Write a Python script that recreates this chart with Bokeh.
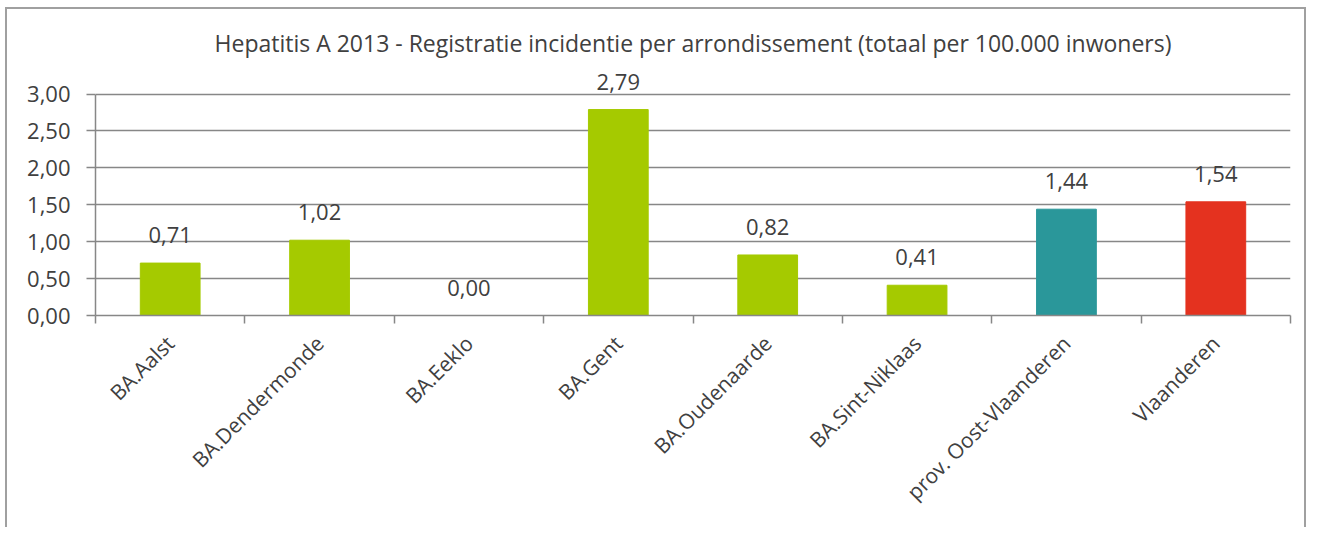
from bokeh.plotting import figure
from bokeh.models import ColumnDataSource, FixedTicker, Range1d, CustomJSTickFormatter, LabelSet
from bokeh.core.properties import value
from bokeh.embed import file_html
from bokeh.resources import INLINE
import math

title_text = "Hepatitis A 2013 - Registratie incidentie per arrondissement (totaal per 100.000 inwoners)"
categories = ["BA.Aalst", "BA.Dendermonde", "BA.Eeklo", "BA.Gent", "BA.Oudenaarde",
              "BA.Sint-Niklaas", "prov. Oost-Vlaanderen", "Vlaanderen"]
values = [0.71, 1.02, 0.00, 2.79, 0.82, 0.41, 1.44, 1.54]
colors = ["#A5CA00"] * 6 + ["#2A979A", "#E4321F"]
y_ticks = [0.0, 0.5, 1.0, 1.5, 2.0, 2.5, 3.0]

FONT = "Open Sans"
TXT = "#404040"
GRID = "#878787"
BORDER = "#a0a0a0"

xs = [i + 0.5 for i in range(len(categories))]
labels = [f"{v:.2f}".replace(".", ",") for v in values]
src = ColumnDataSource(dict(x=xs, top=values, color=colors, label=labels))

# frame extends above the top tick so the value labels are not clipped
y_top = max(y_ticks) * 244.5 / 221.0

W, H = 1307, 527
p = figure(width=W, height=H, output_backend="svg", toolbar_location=None,
           x_range=Range1d(0, len(categories)), y_range=Range1d(0, y_top),
           min_border_left=95, min_border_right=17, min_border_top=70, min_border_bottom=212)

p.title.text = title_text
p.title.align = "center"
p.title.text_font = FONT
p.title.text_font_size = "23px"
p.title.text_font_style = "normal"
p.title.text_color = TXT
p.title.standoff = 24

p.vbar(x="x", top="top", width=0.4, color="color", source=src)
p.add_layout(LabelSet(x="x", y="top", text="label", source=src, text_align="center",
                      text_baseline="alphabetic", y_offset=20, text_font=value(FONT),
                      text_font_size="22px", text_color=TXT))

p.outline_line_color = None
p.border_fill_color = None
p.background_fill_color = "white"
g = f"linear-gradient({BORDER},{BORDER})"
p.styles = {
    "background-image": f"{g}, {g}, {g}",
    "background-size": f"2px {H}px, {W - 7}px 2px, 2px {H}px",
    "background-position": f"5px 7px, 5px 7px, {W - 3}px 7px",
    "background-repeat": "no-repeat",
}

# y axis
p.yaxis.ticker = FixedTicker(ticks=y_ticks)
p.yaxis.bounds = (min(y_ticks), max(y_ticks))
p.yaxis.formatter = CustomJSTickFormatter(code="return tick.toFixed(2).replace('.', ',');")
p.yaxis.axis_line_color = GRID
p.yaxis.axis_line_width = 1.5
p.yaxis.major_tick_line_color = GRID
p.yaxis.major_tick_line_width = 1.5
p.yaxis.major_tick_in = 0
p.yaxis.major_tick_out = 9
p.yaxis.minor_tick_line_color = None
p.yaxis.major_label_standoff = 16
p.yaxis.major_label_text_font = FONT
p.yaxis.major_label_text_font_size = "22px"
p.yaxis.major_label_text_color = TXT

# x axis
p.xaxis.ticker = FixedTicker(ticks=xs, minor_ticks=list(range(len(categories) + 1)))
p.xaxis.major_label_overrides = {x: c for x, c in zip(xs, categories)}
p.xaxis.major_label_orientation = math.pi / 4
p.xaxis.axis_line_color = GRID
p.xaxis.axis_line_width = 1.5
p.xaxis.major_tick_line_color = None
p.xaxis.minor_tick_line_color = GRID
p.xaxis.minor_tick_line_width = 1.5
p.xaxis.minor_tick_in = 0
p.xaxis.minor_tick_out = 8
p.xaxis.major_label_standoff = 16
p.xaxis.major_label_text_font = FONT
p.xaxis.major_label_text_font_size = "21px"
p.xaxis.major_label_text_color = TXT

p.xgrid.grid_line_color = None
p.ygrid.ticker = FixedTicker(ticks=y_ticks)
p.ygrid.grid_line_color = GRID
p.ygrid.grid_line_width = 1.5

open("out.html", "w").write(file_html(p, INLINE))
